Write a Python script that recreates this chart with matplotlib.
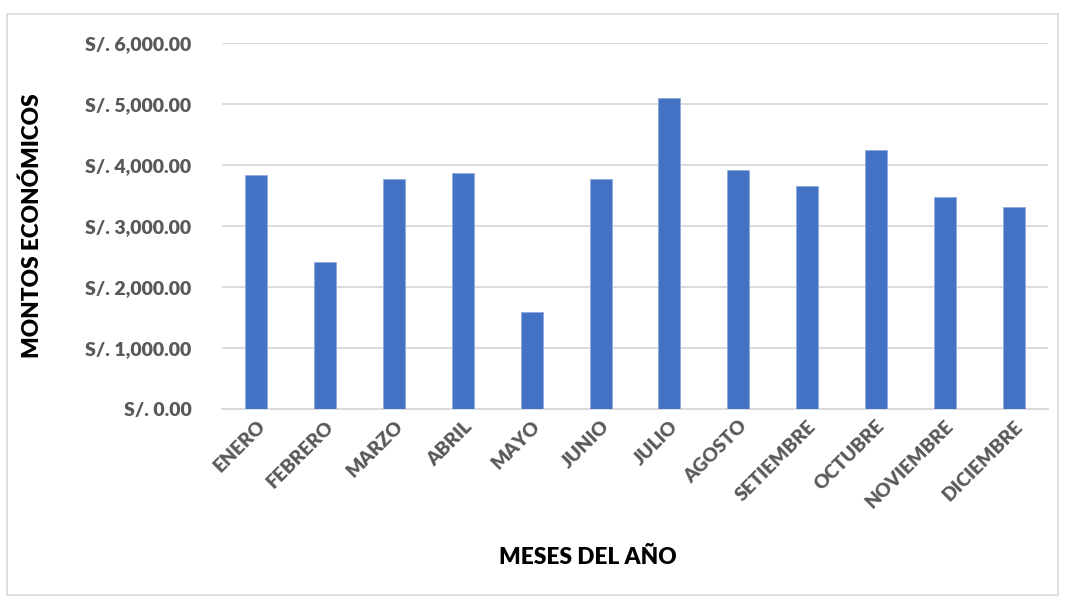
import matplotlib
matplotlib.use("Agg")
import matplotlib.pyplot as plt
from matplotlib.ticker import FuncFormatter
from matplotlib.patches import Rectangle

meses = ["ENERO", "FEBRERO", "MARZO", "ABRIL", "MAYO", "JUNIO", "JULIO",
         "AGOSTO", "SETIEMBRE", "OCTUBRE", "NOVIEMBRE", "DICIEMBRE"]
montos = [3840, 2410, 3765, 3865, 1590, 3770, 5100, 3915, 3650, 4250, 3480, 3310]
yticks = [0, 1000, 2000, 3000, 4000, 5000, 6000]

plt.rcParams['font.family'] = ['Lato', 'DejaVu Sans']

fig = plt.figure(figsize=(10.65, 5.99), dpi=100)
ax = fig.add_axes([222/1065, 1-409.3/599, (1048-222)/1065, (409.3-42.7)/599])

ax.bar(range(len(meses)), montos, width=0.32, color="#4472C4",
       edgecolor="#8FAADC", linewidth=0.6, zorder=3)
ax.set_xlim(-0.5, len(meses)-0.5)
ax.set_ylim(0, 6000)
ax.set_yticks(yticks)
ax.yaxis.set_major_formatter(FuncFormatter(lambda v, p: "S/. {:,.2f}".format(v)))
ax.grid(axis='y', color="#D9D9D9", linewidth=1.3, zorder=0)
for s in ['top', 'right', 'left']:
    ax.spines[s].set_visible(False)
ax.spines['bottom'].set_color("#D9D9D9")
ax.spines['bottom'].set_linewidth(1.3)
ax.tick_params(axis='both', length=0, colors="#595959")
ax.tick_params(axis='y', pad=22)
ax.tick_params(axis='x', pad=6)
ax.set_xticks(range(len(meses)))
ax.set_xticklabels(meses, rotation=45, ha='right', rotation_mode='anchor',
                   fontsize=13.8, fontweight='heavy', color="#595959")
for lab in ax.get_yticklabels():
    lab.set_fontsize(14)
    lab.set_fontweight('heavy')
    lab.set_color("#595959")

fig.text(32/1065, 1-226/599, "MONTOS ECONÓMICOS", rotation=90, ha='center', va='center',
         fontsize=16.3, fontweight='heavy', color="black")
fig.text(588/1065, 1-558/599, "MESES DEL AÑO", ha='center', va='center',
         fontsize=16.3, fontweight='heavy', color="black")

fig.patches.append(Rectangle((7/1065, 1-595/599), (1058-7)/1065, (595-14)/599,
                             transform=fig.transFigure, fill=False,
                             edgecolor="#D9D9D9", linewidth=1.2))
fig.savefig("out.png", dpi=100)
